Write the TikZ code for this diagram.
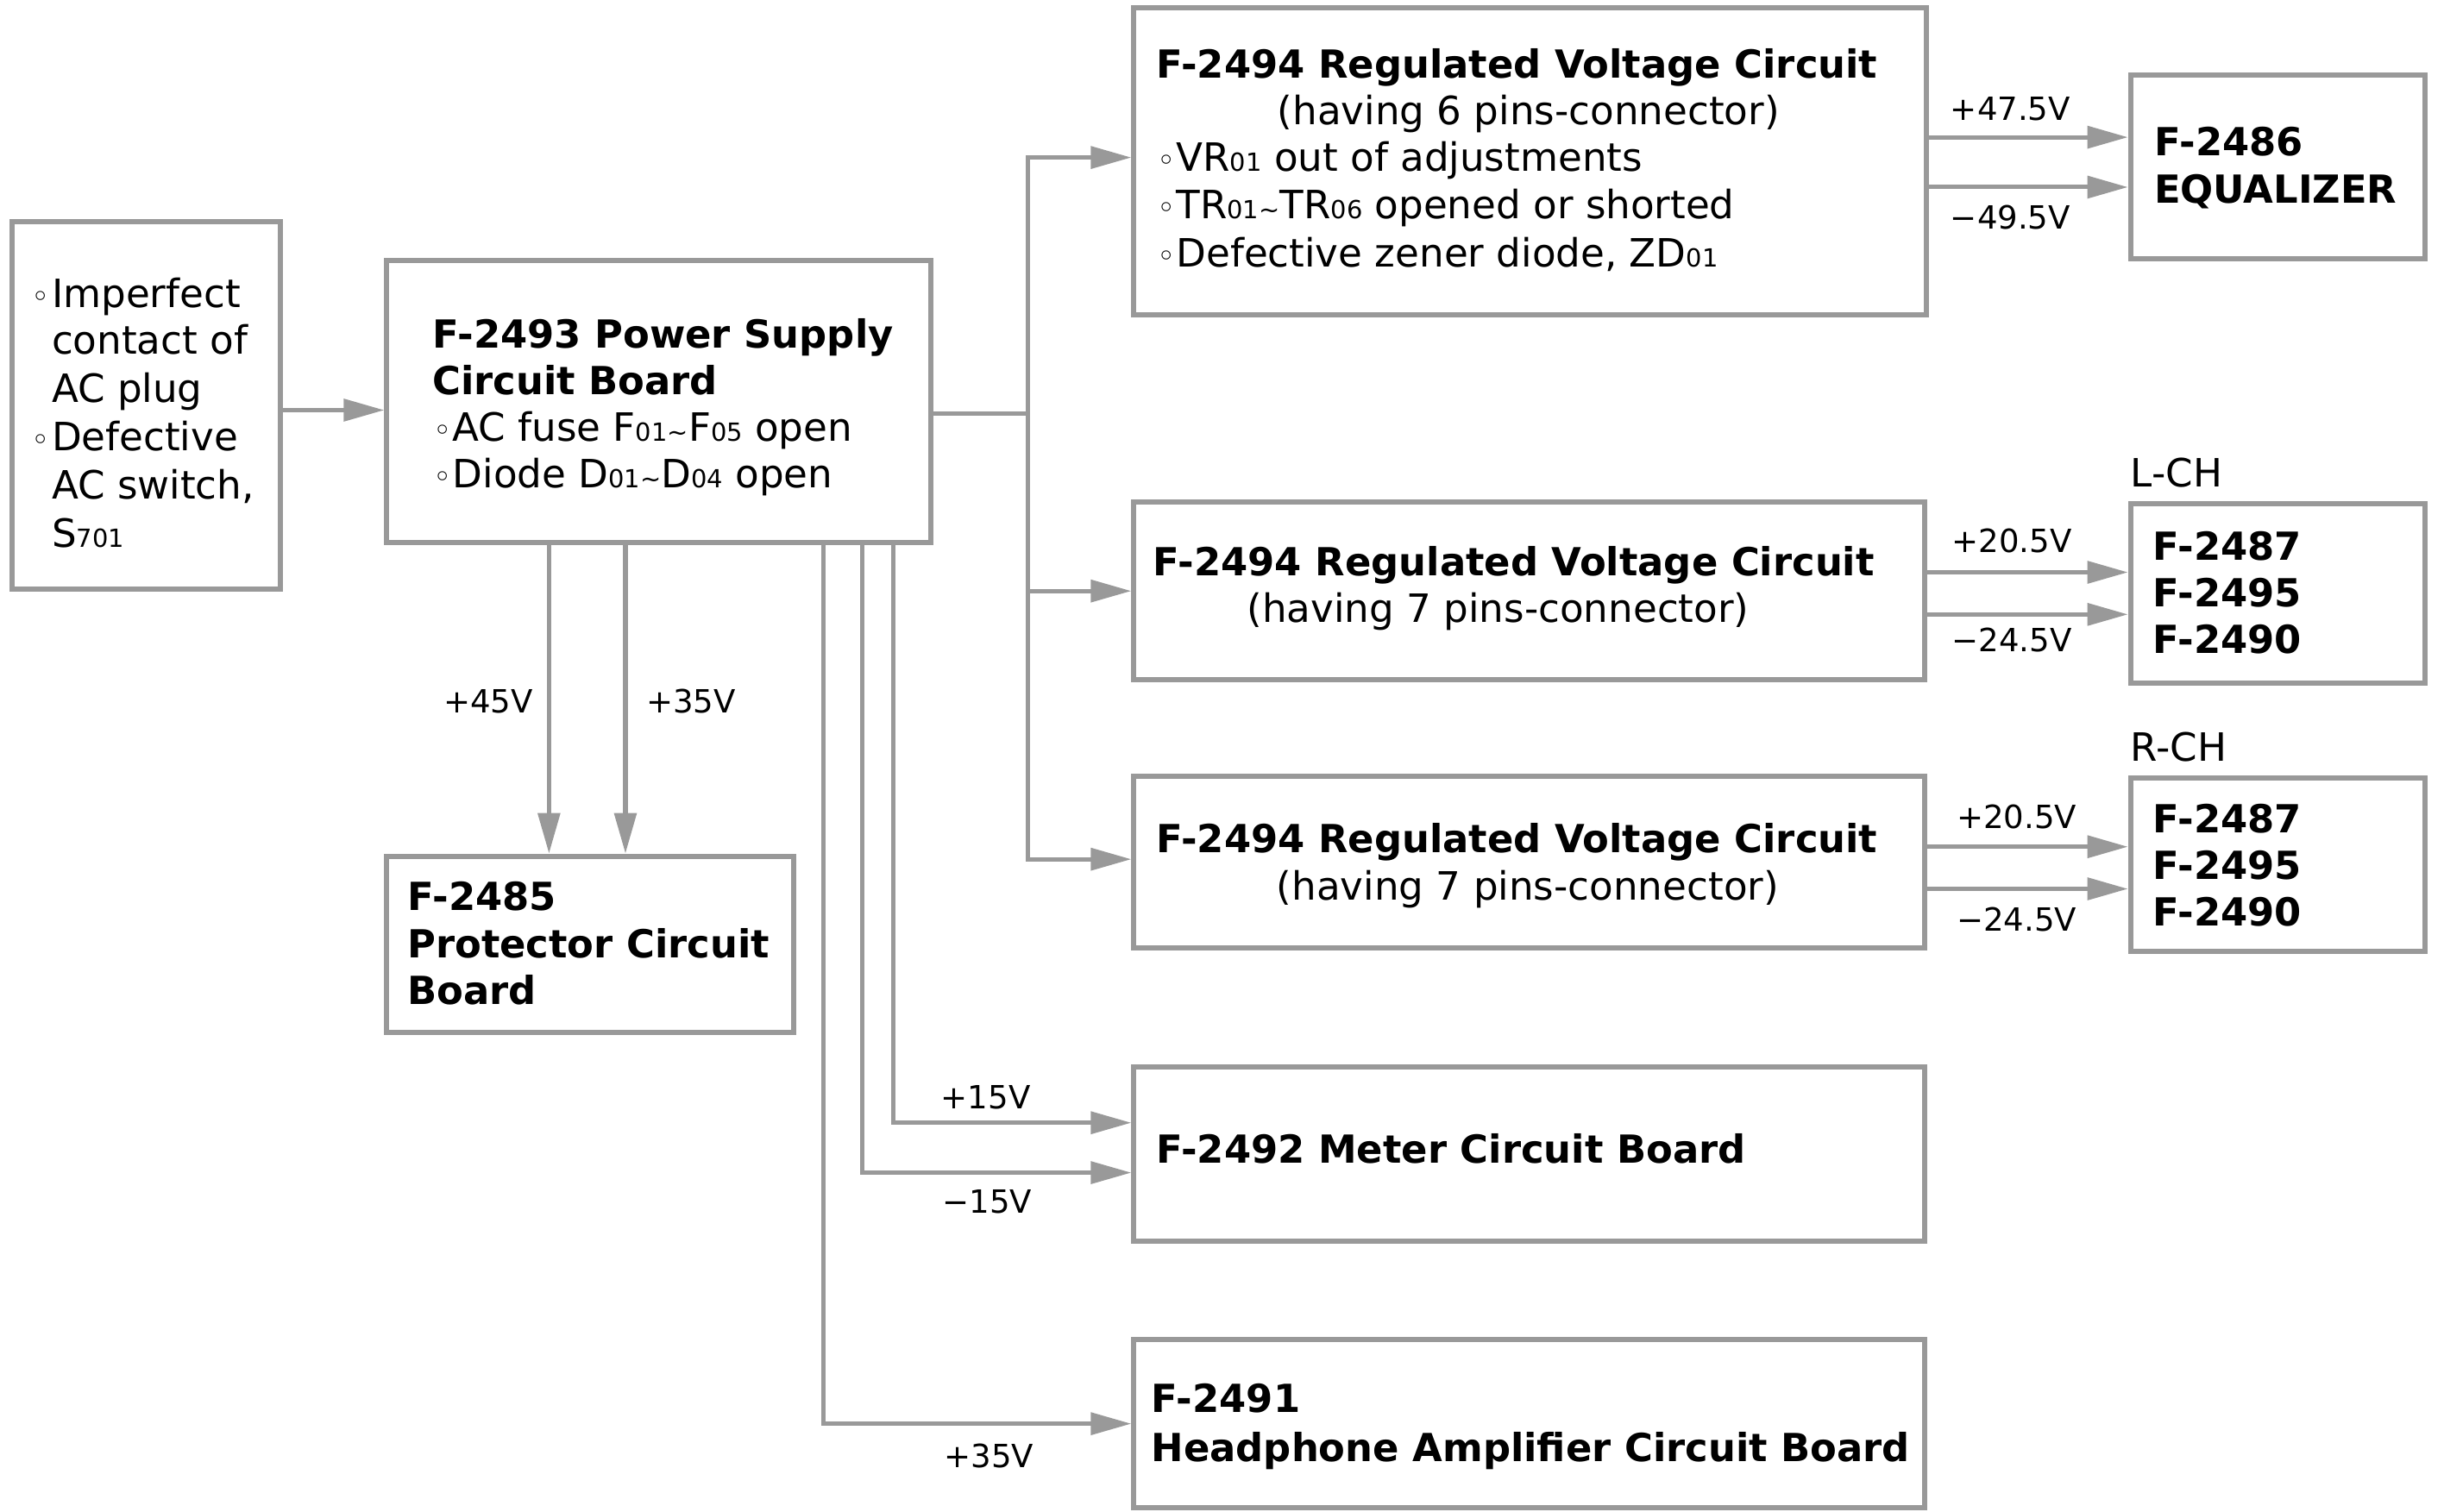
\documentclass[tikz,border=0pt]{standalone}
\usepackage{fontspec}
\setmainfont{DejaVu Sans}
\usetikzlibrary{arrows.meta}
\definecolor{lc}{HTML}{999999}
\newcommand\sbs[1]{{\fontsize{16}{16}\selectfont #1}}
\newcommand\bul{\makebox[12pt][l]{\fontsize{20}{20}\selectfont ◦}}
\tikzset{
  box/.style={draw=lc, line width=3.3pt, inner sep=0pt},
  txt/.style={anchor=base west, inner sep=0pt, font=\fontsize{25}{29}\selectfont},
  ttl/.style={anchor=base west, inner sep=0pt, font=\fontsize{24.8}{29}\selectfont\bfseries},
  ctxt/.style={anchor=base, inner sep=0pt, font=\fontsize{25}{29}\selectfont},
  lbl/.style={anchor=base, inner sep=0pt, font=\fontsize{20.5}{22}\selectfont},
  line/.style={draw=lc, line width=2.8pt},
  arr/.style={line, -{Triangle[length=26pt,width=14pt]}}
}
\begin{document}
\begin{tikzpicture}[x=1pt,y=-1pt]
\useasboundingbox (0,0) rectangle (1567,969.6);
% boxes
\node[box, minimum width=172pt, minimum height=236pt] (fault) at (94,260) {};
\node[box, minimum width=349pt, minimum height=181pt] (ps) at (422.5,257.5) {};
\node[box, minimum width=508pt, minimum height=197pt] (reg1) at (981,103.5) {};
\node[box, minimum width=189pt, minimum height=118pt] (eq) at (1460.5,107) {};
\node[box, minimum width=507pt, minimum height=114pt] (reg2) at (980.5,379) {};
\node[box, minimum width=189pt, minimum height=115pt] (lch) at (1460.5,380.5) {};
\node[box, minimum width=507pt, minimum height=110pt] (reg3) at (980.5,553) {};
\node[box, minimum width=189pt, minimum height=111pt] (rch) at (1460.5,554.5) {};
\node[box, minimum width=507pt, minimum height=112pt] (meter) at (980.5,740) {};
\node[box, minimum width=507pt, minimum height=108pt] (hp) at (980.5,913) {};
\node[box, minimum width=261pt, minimum height=113pt] (prot) at (378.5,605.5) {};
% texts: fault box
\node[txt] (f1) at (20,197) {\makebox[13pt][l]{\fontsize{20}{20}\selectfont ◦}Imperfect};
\node[txt] (f2) at (33,227) {contact of};
\node[txt] (f3) at (33,258) {AC plug};
\node[txt] (f4) at (20,289) {\makebox[13pt][l]{\fontsize{20}{20}\selectfont ◦}Defective};
\node[txt] (f5) at (33,320) {AC switch,};
\node[txt] (f6) at (33,351) {S\sbs{701}};
% power supply
\node[ttl] (p1) at (277,223) {F-2493 Power Supply};
\node[ttl] (p2) at (277,253) {Circuit Board};
\node[txt] (p3) at (278,283) {\bul AC fuse F\sbs{01\textasciitilde}F\sbs{05} open};
\node[txt] (p4) at (278,313) {\bul Diode D\sbs{01\textasciitilde}D\sbs{04} open};
% regulated 1
\node[ttl] (r1a) at (741,50) {F-2494 Regulated Voltage Circuit};
\node[ctxt] (r1b) at (980,80) {(having 6 pins-connector)};
\node[txt] (r1c) at (742,110) {\bul VR\sbs{01} out of adjustments};
\node[txt] (r1d) at (742,140) {\bul TR\sbs{01\textasciitilde}TR\sbs{06} opened or shorted};
\node[txt] (r1e) at (742,171) {\bul Defective zener diode, ZD\sbs{01}};
% equalizer
\node[ttl] (e1) at (1381,100) {F-2486};
\node[ttl] (e2) at (1381,130) {EQUALIZER};
% regulated 2
\node[ttl] (r2a) at (739,369) {F-2494 Regulated Voltage Circuit};
\node[ctxt] (r2b) at (960.5,399) {(having 7 pins-connector)};
% L-CH
\node[txt] (lc0) at (1366,312) {L-CH};
\node[ttl] (l1) at (1380,359) {F-2487};
\node[ttl] (l2) at (1380,389) {F-2495};
\node[ttl] (l3) at (1380,419) {F-2490};
% regulated 3
\node[ttl] (r3a) at (741,547) {F-2494 Regulated Voltage Circuit};
\node[ctxt] (r3b) at (979.5,577) {(having 7 pins-connector)};
% R-CH
\node[txt] (rc0) at (1366,488) {R-CH};
\node[ttl] (rr1) at (1380,534) {F-2487};
\node[ttl] (rr2) at (1380,564) {F-2495};
\node[ttl] (rr3) at (1380,594) {F-2490};
% protector
\node[ttl] (pr1) at (261,584) {F-2485};
\node[ttl] (pr2) at (261,614) {Protector Circuit};
\node[ttl] (pr3) at (261,644) {Board};
% meter
\node[ttl] (m1) at (741,746) {F-2492 Meter Circuit Board};
% headphone
\node[ttl] (h1) at (738,906) {F-2491};
\node[ttl] (h2) at (738,937) {Headphone Amplifier Circuit Board};
% voltage labels
\node[lbl] (v1) at (1289,77) {+47.5V};
\node[lbl] (v2) at (1289,147) {−49.5V};
\node[lbl] (v3) at (1290,354) {+20.5V};
\node[lbl] (v4) at (1290,418) {−24.5V};
\node[lbl] (v5) at (1293,531) {+20.5V};
\node[lbl] (v6) at (1293,597) {−24.5V};
\node[lbl] (v7) at (313,457) {+45V};
\node[lbl] (v8) at (443,457) {+35V};
\node[lbl] (v9) at (632,711) {+15V};
\node[lbl] (v10) at (633,778) {−15V};
\node[lbl] (v11) at (634,941) {+35V};
% connectors
\coordinate (trunk) at (659,265);
\draw[arr] (fault.east |- 0,263) -- (ps.west |- 0,263);
\draw[line] (ps.east |- trunk) -- (trunk);
\draw[arr] (trunk) |- (reg1.west |- 0,101);
\draw[arr] (trunk) |- (reg2.west |- 0,379);
\draw[arr] (trunk) |- (reg3.west |- 0,551);
\draw[arr] (reg1.east |- 0,88) -- (eq.west |- 0,88);
\draw[arr] (reg1.east |- 0,120) -- (eq.west |- 0,120);
\draw[arr] (reg2.east |- 0,367) -- (lch.west |- 0,367);
\draw[arr] (reg2.east |- 0,394) -- (lch.west |- 0,394);
\draw[arr] (reg3.east |- 0,543) -- (rch.west |- 0,543);
\draw[arr] (reg3.east |- 0,570) -- (rch.west |- 0,570);
\draw[arr] (ps.south -| 352,0) -- (prot.north -| 352,0);
\draw[arr] (ps.south -| 401,0) -- (prot.north -| 401,0);
\draw[arr] (ps.south -| 573,0) |- (meter.west |- 0,720);
\draw[arr] (ps.south -| 553,0) |- (meter.west |- 0,752);
\draw[arr] (ps.south -| 528,0) |- (hp.west |- 0,913);
\end{tikzpicture}
\end{document}
